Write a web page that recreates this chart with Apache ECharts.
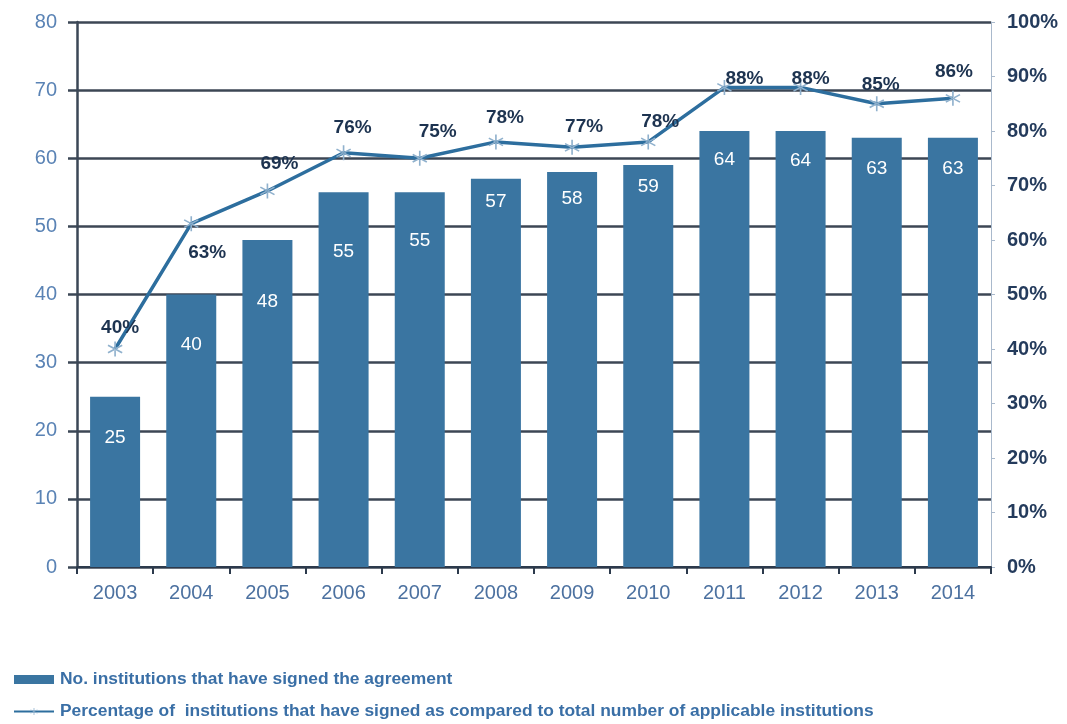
<!DOCTYPE html>
<html>
<head>
<meta charset="utf-8">
<script src="https://cdn.jsdelivr.net/npm/echarts@6/dist/echarts.min.js"></script>
<style>
  html, body { margin: 0; padding: 0; background: #ffffff; }
  #chart { width: 1067px; height: 724px; }
</style>
</head>
<body>
<div id="chart"></div>
<script>
// Years on the category axis
const years = ['2003', '2004', '2005', '2006', '2007', '2008', '2009', '2010', '2011', '2012', '2013', '2014'];
// Number of institutions that have signed the agreement
const signedCount = [25, 40, 48, 55, 55, 57, 58, 59, 64, 64, 63, 63];
// Share of applicable institutions that have signed (percent)
const signedPercent = [40, 63, 69, 76, 75, 78, 77, 78, 88, 88, 85, 86];

// Label nudges [dx, dy] so the value labels sit clear of the line and gridlines
const barLabelNudge = [[0, 10], [0, 19], [0, 30], [0, 28], [0, 17], [0, -8], [0, -5], [0, -10], [0, -3], [0, -2], [0, -1], [0, -1]];
const lineLabelNudge = [[-4, 6], [16, 0], [3, 0], [0, 2], [9, 1], [0, 3], [3, 6], [3, 7], [11, 18], [1, 18], [-5, 8], [-8, 0]];

const barName = 'No. institutions that have signed the agreement';
const lineName = 'Percentage of  institutions that have signed as compared to total number of applicable institutions';

// Six-pointed asterisk made of three thin filled bars
const asterisk = 'path://M-1,-10 L1,-10 L1,10 L-1,10 Z ' +
  'M8.16,5.87 L9.16,4.13 L-8.16,-5.87 L-9.16,-4.13 Z ' +
  'M-9.16,4.13 L-8.16,5.87 L9.16,-4.13 L8.16,-5.87 Z';

const FONT = "'Liberation Sans Narrow', 'Liberation Sans', Arial, sans-serif";

const chart = echarts.init(document.getElementById('chart'), null, { renderer: 'canvas' });

chart.setOption({
  animation: false,
  backgroundColor: '#ffffff',
  textStyle: { fontFamily: FONT },
  grid: { left: 77, right: 76, top: 22, bottom: 157, containLabel: false },
  legend: {
    orient: 'vertical',
    left: 13,
    top: 671,
    padding: 0,
    itemWidth: 40,
    itemHeight: 9,
    itemGap: 15,
    textStyle: { fontFamily: FONT, fontSize: 17.4, fontWeight: 'bold', color: '#3a6fa6', padding: [0, 0, 0, 1] },
    data: [
      { name: barName, icon: 'rect' },
      { name: lineName }
    ]
  },
  xAxis: {
    type: 'category',
    data: years,
    boundaryGap: true,
    axisLine: { lineStyle: { color: '#2c3a4c', width: 2 } },
    axisTick: { show: true, length: 7, lineStyle: { color: '#2c3a4c', width: 2 } },
    axisLabel: { color: '#4c71a0', fontSize: 20, margin: 16 },
    splitLine: { show: false }
  },
  yAxis: [
    {
      type: 'value',
      min: 0,
      max: 80,
      interval: 10,
      axisLine: { show: true, lineStyle: { color: '#3b4756', width: 2.5 } },
      axisTick: { show: true, length: 9, lineStyle: { color: '#3b4756', width: 2.5 } },
      axisLabel: { color: '#5a83b5', fontSize: 20, margin: 20 },
      splitLine: { show: true, lineStyle: { color: '#3c4654', width: 2.5 } }
    },
    {
      type: 'value',
      min: 0,
      max: 100,
      interval: 10,
      position: 'right',
      axisLine: { show: true, lineStyle: { color: '#a9b9cc', width: 1 } },
      axisTick: { show: true, length: 4, lineStyle: { color: '#a9b9cc', width: 1 } },
      axisLabel: { color: '#243b5c', fontSize: 20, fontWeight: 'bold', margin: 16, formatter: '{value}%' },
      splitLine: { show: false }
    }
  ],
  series: [
    {
      name: barName,
      type: 'bar',
      yAxisIndex: 0,
      data: signedCount.map((v, i) => ({ value: v, label: { offset: barLabelNudge[i] } })),
      barWidth: 50,
      itemStyle: { color: '#3a75a1' },
      label: {
        show: true,
        position: 'insideTop',
        distance: 22,
        color: '#ffffff',
        fontSize: 19,
        fontFamily: FONT
      },
      z: 2
    },
    {
      name: lineName,
      type: 'line',
      yAxisIndex: 1,
      data: signedPercent.map((v, i) => ({
        value: v,
        label: i === 1
          ? { position: 'bottom', distance: 12, offset: lineLabelNudge[i] }
          : { offset: [9 + lineLabelNudge[i][0], lineLabelNudge[i][1]] }
      })),
      symbol: asterisk,
      symbolSize: 15,
      showAllSymbol: true,
      lineStyle: { color: '#2d6e9e', width: 3.5 },
      itemStyle: { color: '#90b1cd' },
      label: {
        show: true,
        position: 'top',
        distance: 10,
        formatter: '{c}%',
        color: '#1d3350',
        fontSize: 19,
        fontWeight: 'bold',
        fontFamily: FONT
      },
      z: 5
    }
  ]
});
</script>
</body>
</html>
